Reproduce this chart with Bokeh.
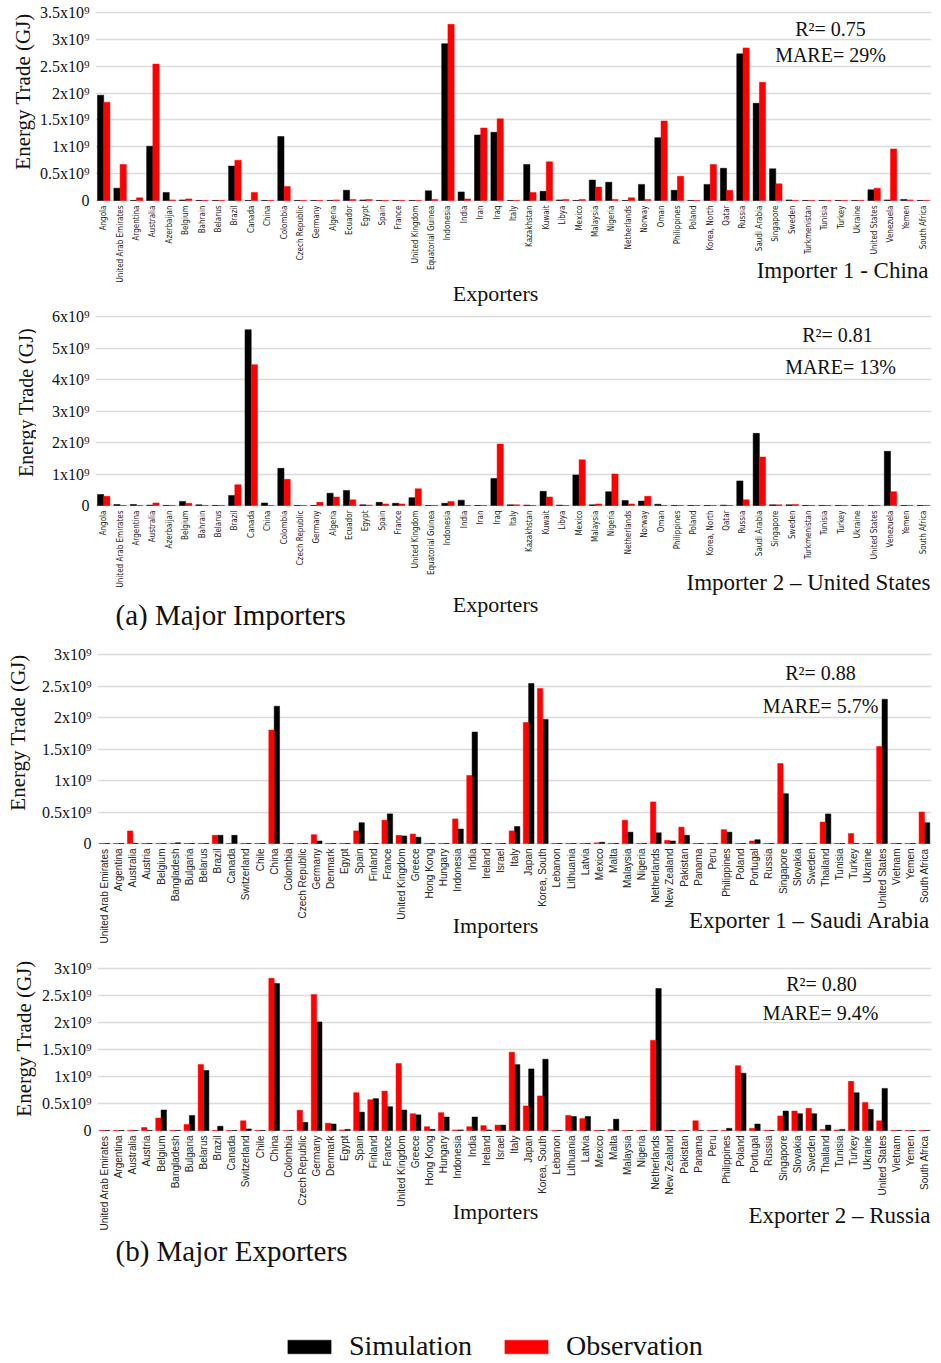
from bokeh.plotting import figure
from bokeh.models import (ColumnDataSource, FactorRange, Range1d, FixedTicker, Label,
                          CustomJSTickFormatter, Legend, LegendItem)
from bokeh.core.properties import value
from bokeh.transform import dodge
from bokeh.layouts import column, row
from bokeh.embed import file_html
from bokeh.resources import INLINE
from math import pi

# ---------------- data (values in units of 10^9 GJ) ----------------
exporters = ["Angola", "United Arab Emirates", "Argentina", "Australia", "Azerbaijan", "Belgium",
             "Bahrain", "Belarus", "Brazil", "Canada", "China", "Colombia", "Czech Republic",
             "Germany", "Algeria", "Ecuador", "Egypt", "Spain", "France", "United Kingdom",
             "Equatorial Guinea", "Indonesia", "India", "Iran", "Iraq", "Italy", "Kazakhstan",
             "Kuwait", "Libya", "Mexico", "Malaysia", "Nigeria", "Netherlands", "Norway", "Oman",
             "Philippines", "Poland", "Korea, North", "Qatar", "Russia", "Saudi Arabia",
             "Singapore", "Sweden", "Turkmenistan", "Tunisia", "Turkey", "Ukraine",
             "United States", "Venezuela", "Yemen", "South Africa"]

china_sim = [1.96, 0.23, 0, 1.01, 0.15, 0.01, 0, 0, 0.64, 0, 0, 1.19, 0, 0, 0, 0.19, 0.01, 0, 0, 0,
             0.18, 2.92, 0.16, 1.22, 1.27, 0, 0.67, 0.17, 0.01, 0, 0.38, 0.34, 0, 0.30, 1.17, 0.19,
             0, 0.30, 0.60, 2.73, 1.81, 0.59, 0.01, 0, 0, 0, 0, 0.20, 0.01, 0.02, 0]
china_obs = [1.83, 0.67, 0.05, 2.54, 0.01, 0.03, 0, 0, 0.75, 0.15, 0, 0.26, 0, 0, 0.01, 0.02, 0.02,
             0, 0, 0, 0.02, 3.28, 0.03, 1.35, 1.52, 0, 0.15, 0.72, 0.02, 0.02, 0.25, 0.02, 0.05,
             0.02, 1.48, 0.45, 0, 0.67, 0.19, 2.84, 2.20, 0.31, 0, 0, 0, 0, 0, 0.23, 0.96, 0.01, 0]

us_sim = [0.35, 0.03, 0.03, 0.01, 0, 0.13, 0.02, 0, 0.32, 5.58, 0.08, 1.18, 0, 0, 0.39, 0.48, 0.02,
          0.10, 0.07, 0.25, 0, 0.07, 0.17, 0, 0.86, 0.02, 0.01, 0.45, 0.01, 0.97, 0.02, 0.44, 0.16,
          0.14, 0.04, 0, 0, 0, 0.01, 0.78, 2.29, 0.02, 0.02, 0, 0, 0, 0, 0, 1.72, 0, 0]
us_obs = [0.29, 0, 0, 0.08, 0, 0.07, 0, 0, 0.66, 4.47, 0, 0.83, 0, 0.10, 0.27, 0.18, 0.01, 0.05,
          0.05, 0.53, 0, 0.13, 0, 0, 1.95, 0.02, 0, 0.27, 0, 1.45, 0.05, 1.00, 0.05, 0.29, 0, 0, 0,
          0, 0, 0.18, 1.54, 0.02, 0.03, 0, 0, 0, 0, 0, 0.44, 0, 0]

importers = ["United Arab Emirates", "Argentina", "Australia", "Austria", "Belgium", "Bangladesh",
             "Bulgaria", "Belarus", "Brazil", "Canada", "Switzerland", "Chile", "China", "Colombia",
             "Czech Republic", "Germany", "Denmark", "Egypt", "Spain", "Finland", "France",
             "United Kingdom", "Greece", "Hong Kong", "Hungary", "Indonesia", "India", "Ireland",
             "Israel", "Italy", "Japan", "Korea, South", "Lebanon", "Lithuania", "Latvia", "Mexico",
             "Malta", "Malaysia", "Nigeria", "Netherlands", "New Zealand", "Pakistan", "Panama",
             "Peru", "Philippines", "Poland", "Portugal", "Russia", "Singapore", "Slovakia",
             "Sweden", "Thailand", "Tunisia", "Turkey", "Ukraine", "United States", "Vietnam",
             "Yemen", "South Africa"]

saudi_obs = [0, 0, 0.20, 0, 0, 0, 0, 0, 0.13, 0, 0, 0, 1.80, 0, 0, 0.14, 0, 0, 0.20, 0, 0.37, 0.13,
             0.15, 0, 0, 0.39, 1.08, 0, 0, 0.20, 1.92, 2.46, 0, 0, 0, 0.01, 0, 0.37, 0, 0.66, 0.05,
             0.26, 0, 0, 0.22, 0, 0.04, 0, 1.27, 0, 0, 0.34, 0, 0.16, 0, 1.54, 0, 0, 0.50]
saudi_sim = [0, 0, 0, 0, 0, 0.01, 0, 0, 0.13, 0.13, 0, 0, 2.18, 0, 0, 0.04, 0, 0, 0.33, 0, 0.47,
             0.12, 0.10, 0, 0, 0.23, 1.77, 0, 0, 0.27, 2.54, 1.97, 0, 0, 0, 0.02, 0, 0.18, 0, 0.17,
             0.04, 0.13, 0, 0, 0.18, 0, 0.06, 0, 0.79, 0, 0, 0.47, 0, 0, 0, 2.29, 0, 0, 0.33]

russia_obs = [0, 0, 0, 0.055, 0.23, 0, 0.11, 1.22, 0, 0, 0.18, 0, 2.82, 0, 0.375, 2.52, 0.135, 0.01,
              0.70, 0.57, 0.73, 1.24, 0.31, 0.07, 0.33, 0.01, 0.07, 0.09, 0.10, 1.45, 0.455, 0.64,
              0, 0.28, 0.22, 0, 0.02, 0, 0, 1.67, 0, 0, 0.18, 0, 0, 1.20, 0.04, 0, 0.27, 0.36,
              0.41, 0.02, 0.01, 0.91, 0.52, 0.18, 0, 0, 0]
russia_sim = [0, 0, 0, 0, 0.38, 0, 0.28, 1.11, 0.08, 0, 0.03, 0, 2.72, 0, 0.15, 2.01, 0.12, 0.02,
              0.34, 0.59, 0.44, 0.38, 0.29, 0.02, 0.25, 0.01, 0.25, 0.01, 0.10, 1.22, 1.14, 1.32,
              0, 0.26, 0.26, 0, 0.21, 0, 0, 2.63, 0, 0, 0, 0, 0.04, 1.06, 0.12, 0, 0.36, 0.31,
              0.31, 0.10, 0.02, 0.70, 0.39, 0.78, 0, 0, 0]

y_ticks_a = [0, 0.5, 1, 1.5, 2, 2.5, 3, 3.5]
y_ticks_b = [0, 1, 2, 3, 4, 5, 6]
y_ticks_c = [0, 0.5, 1, 1.5, 2, 2.5, 3]

SERIF = "Liberation Serif"
M = 0            # the page is photographed from its top-left corner
W = 940
TW = 36          # width of the strip holding the rotated y-axis title
FRAME_RIGHT = 931


def make_panel(cats, sim, obs, ticks, H, t_px, z_px, frame_left_img,
               sim_first, xfont, xsize):
    """t_px / z_px: pixel rows (from figure top) of the top tick and of zero."""
    T = ticks[-1]
    s = T / (z_px - t_px)
    src = ColumnDataSource(dict(cat=cats, sim=sim, obs=obs))
    p = figure(width=W - TW, height=H, x_range=FactorRange(*cats),
               y_range=Range1d(-(H - z_px) * s, T + t_px * s),
               output_backend="svg", toolbar_location=None,
               min_border_top=0, min_border_bottom=0,
               min_border_left=frame_left_img - M - TW, min_border_right=W - FRAME_RIGHT)
    d = 0.19
    xs_sim = dodge("cat", -d if sim_first else d, range=p.x_range)
    xs_obs = dodge("cat", d if sim_first else -d, range=p.x_range)
    r_sim = p.vbar(x=xs_sim, top="sim", width=0.38, source=src, fill_color="#000000",
                   line_color="#000000", line_width=0.5)
    r_obs = p.vbar(x=xs_obs, top="obs", width=0.38, source=src, fill_color="#ff0000",
                   line_color="#ff0000", line_width=0.5)
    # category labels, rotated, hanging below the zero line
    p.text(x="cat", y=0, text="cat", source=src, angle=pi / 2, text_align="right",
           text_baseline="middle", y_offset=5, text_font=value(xfont),
           text_font_size=value(xsize), text_color="#222222")
    p.outline_line_color = None
    p.xgrid.grid_line_color = None
    p.ygrid.grid_line_color = "#dcdcdc"
    p.ygrid.grid_line_width = 1.6
    p.ygrid.ticker = FixedTicker(ticks=ticks)
    p.x_range.range_padding = 0
    p.x_range.factor_padding = 0
    p.xaxis.visible = False

    p.yaxis.ticker = FixedTicker(ticks=ticks)
    p.yaxis.formatter = CustomJSTickFormatter(
        code="return tick == 0 ? '0' : tick + 'x10\u2079';")
    p.yaxis.axis_line_color = None
    p.yaxis.major_tick_line_color = None
    p.yaxis.minor_tick_line_color = None
    p.yaxis.major_tick_out = 0
    p.yaxis.major_tick_in = 0
    p.yaxis.minor_tick_out = 0
    p.yaxis.minor_tick_in = 0
    p.yaxis.major_label_text_font = SERIF
    p.yaxis.major_label_text_font_size = "16px"
    p.yaxis.major_label_text_color = "#111111"
    p.yaxis.major_label_standoff = 6
    return p, r_sim, r_obs


def lab(p, fl, top, ximg, yimg, text, size, align="center"):
    # positions given in page pixels, converted to frame-relative screen units
    p.add_layout(Label(x=ximg - fl, y=(top + p.height) - yimg, x_units="screen", y_units="screen",
                       text=text, text_font=SERIF, text_font_size=f"{size}px",
                       text_align=align, text_baseline="middle", text_color="#111111"))


def title_strip(top_img, H, xc, yc, size):
    t = figure(width=TW, height=H, x_range=Range1d(0, 1), y_range=Range1d(0, 1),
               output_backend="svg", toolbar_location=None,
               min_border_top=0, min_border_bottom=0, min_border_left=0, min_border_right=0)
    t.axis.visible = False
    t.grid.visible = False
    t.outline_line_color = None
    t.add_layout(Label(x=xc - M, y=(top_img + H) - yc, x_units="screen", y_units="screen",
                       text="Energy Trade (GJ)", angle=pi / 2, text_font=SERIF,
                       text_font_size=f"{size}px", text_align="center",
                       text_baseline="middle", text_color="#111111"))
    return t


CONDENSED = "DejaVu Sans Condensed"
RIGHT = 930      # right edge for the right-aligned captions

panels = []

# Panel 1 : Importer 1 - China
top1, H1 = M, 306
p1, _, _ = make_panel(exporters, china_sim, china_obs, y_ticks_a, H1, 12, 200, 95, True, CONDENSED, "8px")
lab(p1, 95, top1, 830, 28, "R\u00b2= 0.75", 20)
lab(p1, 95, top1, 830, 54, "MARE= 29%", 20)
lab(p1, 95, top1, RIGHT - 2, 270, "Importer 1 - China", 23, "right")
lab(p1, 95, top1, 495, 293, "Exporters", 22)
panels.append(row(title_strip(top1, H1, 22, 91, 21), p1))

# Panel 2 : Importer 2 - United States
top2, H2 = top1 + H1, 324
p2, _, _ = make_panel(exporters, us_sim, us_obs, y_ticks_b, H2, 10, 199, 95, True, CONDENSED, "8px")
lab(p2, 95, top2, 837, 334, "R\u00b2= 0.81", 20)
lab(p2, 95, top2, 840, 366, "MARE= 13%", 20)
lab(p2, 95, top2, RIGHT, 582, "Importer 2 \u2013 United States", 23, "right")
lab(p2, 95, top2, 495, 604, "Exporters", 22)
lab(p2, 95, top2, 115, 614, "(a) Major Importers", 29, "left")
panels.append(row(title_strip(top2, H2, 25, 402, 20), p2))

# Panel 3 : Exporter 1 - Saudi Arabia
top3, H3 = top2 + H2, 315
p3, _, _ = make_panel(importers, saudi_sim, saudi_obs, y_ticks_c, H3, 24, 213, 97, False, "Liberation Sans", "10px")
lab(p3, 97, top3, 820, 672, "R\u00b2= 0.88", 20)
lab(p3, 97, top3, 820, 705, "MARE= 5.7%", 20)
lab(p3, 97, top3, RIGHT, 920, "Exporter 1 \u2013 Saudi Arabia", 23, "right")
lab(p3, 97, top3, 495, 925, "Importers", 22)
panels.append(row(title_strip(top3, H3, 17, 732, 21), p3))

# Panel 4 : Exporter 2 - Russia (+ legend strip)
top4, H4 = top3 + H3, 417
p4, r_sim, r_obs = make_panel(importers, russia_sim, russia_obs, y_ticks_c, H4, 23, 185, 97, False, "Liberation Sans", "10px")
lab(p4, 97, top4, 821, 983, "R\u00b2= 0.80", 20)
lab(p4, 97, top4, 820, 1012, "MARE= 9.4%", 20)
lab(p4, 97, top4, RIGHT, 1215, "Exporter 2 \u2013 Russia", 23, "right")
lab(p4, 97, top4, 495, 1211, "Importers", 22)
lab(p4, 97, top4, 115, 1250, "(b) Major Exporters", 29, "left")

leg = Legend(items=[LegendItem(label="Simulation", renderers=[r_sim]),
                    LegendItem(label="Observation", renderers=[r_obs])],
             orientation="horizontal", location=(282 - 97, 0),
             glyph_width=54, glyph_height=17, label_standoff=13, spacing=27,
             padding=0, margin=0, border_line_alpha=0, background_fill_alpha=0,
             label_text_font=SERIF, label_text_font_size="28px", label_text_color="#111111")
p4.add_layout(leg, "center")
panels.append(row(title_strip(top4, H4, 23, 1038, 21), p4))

layout = column(*panels)
open("out.html", "w").write(file_html(layout, INLINE))
